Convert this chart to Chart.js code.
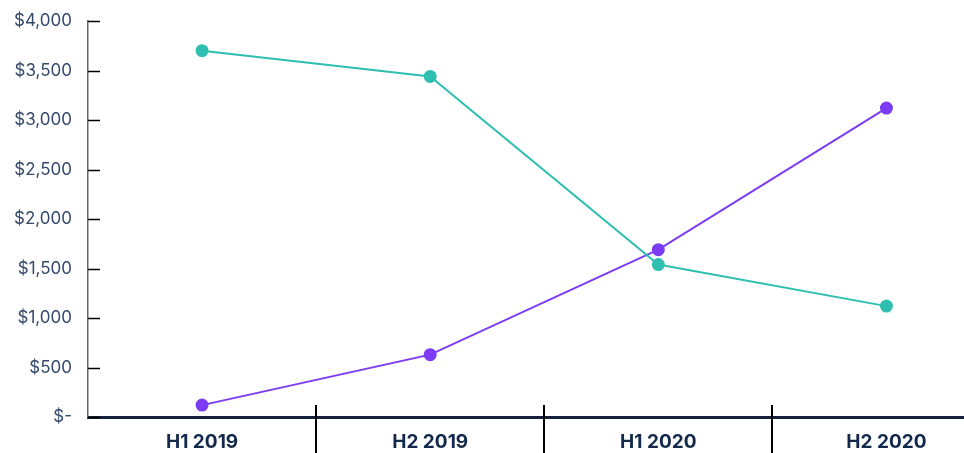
<!DOCTYPE html>
<html>
<head>
<meta charset="utf-8">
<script src="https://cdn.jsdelivr.net/npm/chart.js@4.4.1/dist/chart.umd.min.js"></script>
<style>
  html, body { margin: 0; padding: 0; background: #fff; overflow: hidden; }
  #wrap { width: 1008px; height: 453px; }
</style>
</head>
<body>
<div id="wrap"><canvas id="chart"></canvas></div>
<script>
const periods = ['H1 2019', 'H2 2019', 'H1 2020', 'H2 2020'];
const tealValues = [3700, 3440, 1540, 1120];
const purpleValues = [120, 630, 1690, 3120];

// short inward ticks on the y axis, and category dividers on the x axis
const axisMarks = {
    id: 'axisMarks',
    afterDraw(chart) {
        const ctx = chart.ctx;
        const x = chart.scales.x, y = chart.scales.y;
        ctx.save();
        ctx.strokeStyle = '#000';
        ctx.lineWidth = 1.5;
        y.ticks.forEach((t, i) => {
            const py = Math.round(y.getPixelForTick(i)) + 0.5;
            ctx.beginPath();
            ctx.moveTo(x.left, py);
            ctx.lineTo(x.left + 12, py);
            ctx.stroke();
        });
        ctx.lineWidth = 2;
        for (let i = 1; i < periods.length; i++) {
            const px = Math.round((x.getPixelForValue(i - 1) + x.getPixelForValue(i)) / 2);
            ctx.beginPath();
            ctx.moveTo(px, y.bottom - 12);
            ctx.lineTo(px, chart.height);
            ctx.stroke();
        }
        ctx.restore();
    }
};

new Chart(document.getElementById('chart'), {
    type: 'line',
    data: {
        labels: periods,
        datasets: [{
            data: tealValues,
            borderColor: '#2fbfb1',
            backgroundColor: '#2fbfb1',
            borderWidth: 2,
            pointRadius: 5.5,
            pointHoverRadius: 5.5
        }, {
            data: purpleValues,
            borderColor: '#7b3cf4',
            backgroundColor: '#7b3cf4',
            borderWidth: 2,
            pointRadius: 5.5,
            pointHoverRadius: 5.5
        }]
    },
    options: {
        responsive: true,
        maintainAspectRatio: false,
        animation: false,
        layout: { padding: 0 },
        plugins: { legend: { display: false }, tooltip: { enabled: false } },
        scales: {
            x: {
                offset: true,
                afterFit: s => { s.height = 36; },
                grid: { display: false, drawTicks: false },
                border: { display: true, color: '#16213e', width: 3 },
                ticks: {
                    color: '#13294b',
                    padding: 14,
                    font: { family: 'Inter', size: 19, weight: 'bold' }
                }
            },
            y: {
                min: 0,
                max: 4000,
                afterFit: s => { s.width = 88; s.paddingTop = 21; s.paddingBottom = 0; },
                grid: { display: false, drawTicks: false },
                border: { display: true, color: '#666', width: 1.5 },
                ticks: {
                    stepSize: 500,
                    color: '#34496b',
                    padding: 16,
                    font: { family: 'Inter', size: 17 },
                    callback: v => v === 0 ? '$-' : '$' + v.toLocaleString('en-US')
                }
            }
        }
    },
    plugins: [axisMarks]
});
</script>
</body>
</html>
